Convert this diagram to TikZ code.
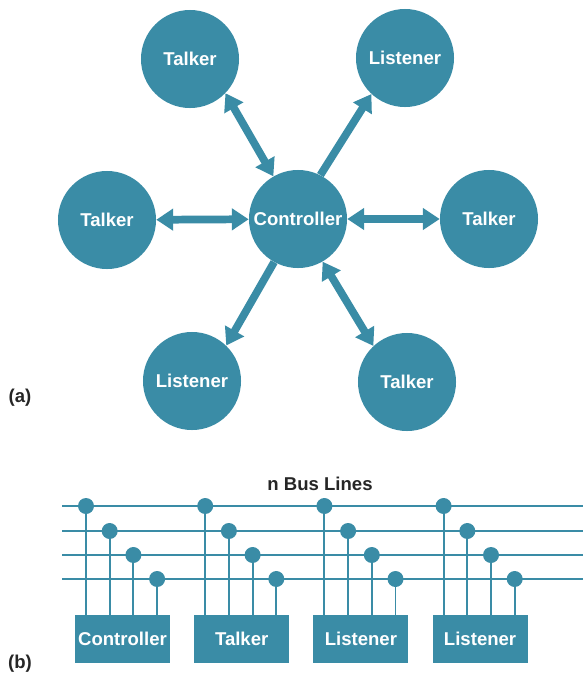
\documentclass[tikz,border=0pt]{standalone}
\usepackage{fontspec}
\setmainfont{Liberation Sans}
\usetikzlibrary{arrows.meta}
\definecolor{busteal}{RGB}{58,140,166}

\begin{document}
\begin{tikzpicture}[x=0.025cm, y=-0.025cm,
    >={Triangle[width=15pt,length=12pt]},
    labelfont/.style={font=\bfseries\fontsize{13.2}{15}\selectfont},
    station/.style={circle, fill=busteal, minimum size=2.45cm, inner sep=0pt, text=white, labelfont},
    link/.style={color=busteal, line width=5.5pt},
    device/.style={rectangle, fill=busteal, minimum width=2.375cm, minimum height=1.2cm, inner sep=0pt, text=white, labelfont},
    busline/.style={draw=busteal, line width=1.4pt},
    tap/.style={circle, fill=busteal, minimum size=0.4cm, inner sep=0pt},
    caption/.style={labelfont, text=black!85}]
    \useasboundingbox (0,0) rectangle (583,673);

    % (a) star of stations round the controller
    \node[station] (ctrl) at (298,219) {Controller};
    \node[station] (talkTL) at (190,59) {Talker};
    \node[station] (listTR) at (405,58) {Listener};
    \node[station] (talkL) at (107,220) {Talker};
    \node[station] (talkR) at (489,219) {Talker};
    \node[station] (listBL) at (192,381) {Listener};
    \node[station] (talkBR) at (407,382) {Talker};

    \draw[link, <->] (talkTL.-44) -- (ctrl.120);
    \draw[link, ->] (ctrl.63) -- (listTR.227);
    \draw[link, <->] (talkL) -- (ctrl);
    \draw[link, <->] (ctrl) -- (talkR);
    \draw[link, ->] (ctrl.241) -- (listBL.46);
    \draw[link, <->] (ctrl.300) -- (talkBR.133);

    \node[caption] (capA) at (20,398) {(a)};

    % (b) n bus lines
    \node[caption] (busTitle) at (320,484) {n Bus Lines};
    \foreach \j/\y in {0/506,1/531,2/555,3/579} {
        \coordinate (busL\j) at (62,\y);
        \coordinate (busR\j) at (583,\y);
        \draw[busline] (busL\j) -- (busR\j);
    }

    % devices with their taps
    \foreach \i/\name in {0/Controller,1/Talker,2/Listener,3/Listener} {
        \node[device] (dev\i) at (122.5+119.2*\i,639) {\name};
        \foreach \j in {0,1,2,3} {
            \coordinate (tap\i\j) at (86+119.2*\i+23.7*\j, 0 |- busL\j);
            \draw[busline] (tap\i\j) -- (tap\i\j |- dev\i.north);
            \node[tap] at (tap\i\j) {};
        }
    }

    \node[caption] (capB) at (20,664) {(b)};
\end{tikzpicture}
\end{document}
